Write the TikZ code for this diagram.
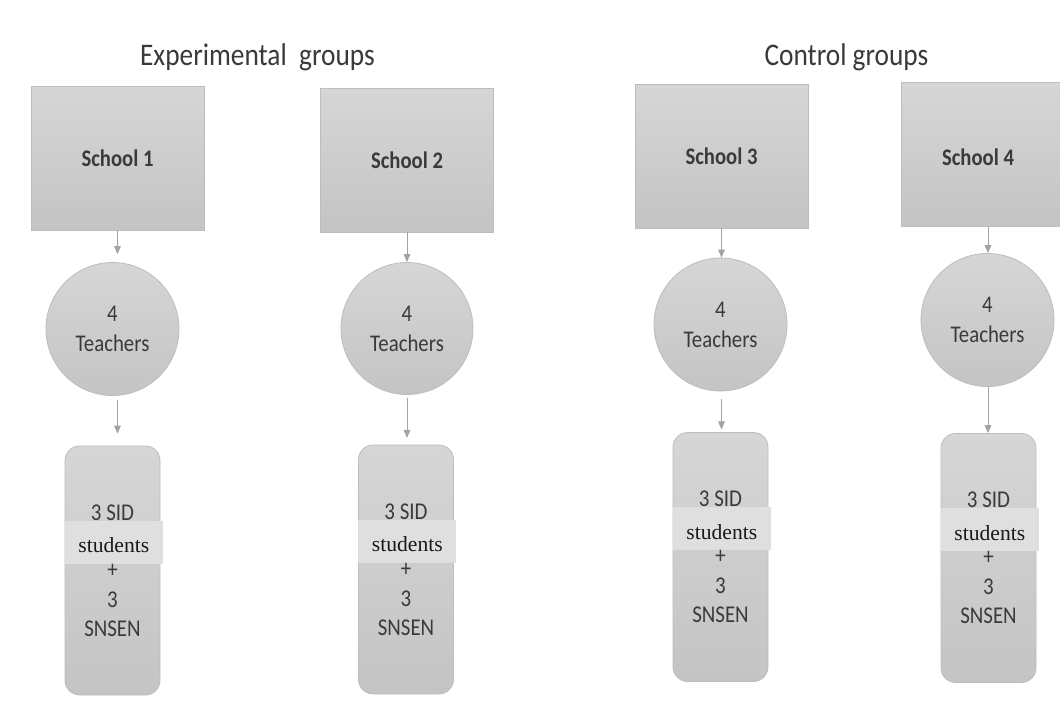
\documentclass[tikz,border=0pt]{standalone}
\usepackage{graphicx}
\usepackage{fontspec}
\setmainfont{Carlito}
\newfontfamily\serifband{Liberation Serif}
\usetikzlibrary{arrows.meta,calc}

\definecolor{boxtop}{HTML}{D6D6D6}
\definecolor{boxbot}{HTML}{C4C4C4}
\definecolor{boxline}{HTML}{BDBDBD}
\definecolor{inktext}{HTML}{3A3A3A}
\definecolor{arrowgray}{HTML}{A3A3A3}
\definecolor{bandfill}{HTML}{DFDFDF}

% the sans lettering is set a little taller than it is wide
\newcommand\tall[1]{\scalebox{1}[1.15]{#1}}

\tikzset{
  schoolbox/.style={draw=boxline, line width=0.6pt, top color=boxtop, bottom color=boxbot,
    minimum width=129.75pt, minimum height=108pt, inner sep=0pt,
    font=\fontsize{15.5}{18}\bfseries, text=inktext},
  teacherdisc/.style={circle, draw=boxline, line width=0.6pt, top color=boxtop, bottom color=boxbot,
    minimum size=99.75pt, inner sep=0pt, align=center,
    font=\fontsize{15.6}{22.5}\selectfont, text=inktext},
  pupilbox/.style={draw=boxline, line width=0.6pt, rounded corners=11pt,
    top color=boxtop, bottom color=boxbot,
    minimum width=71.25pt, minimum height=186.75pt, inner sep=0pt},
  band/.style={fill=bandfill, minimum width=73.5pt, minimum height=32.25pt, inner sep=0pt,
    font=\serifband\fontsize{16.2}{18}\selectfont, text=black!90},
  boxtext/.style={font=\fontsize{15.7}{18}\selectfont, text=inktext, inner sep=0pt},
  heading/.style={font=\fontsize{20.5}{24}\selectfont, text=inktext, inner sep=0pt, anchor=base},
  arr/.style={draw=arrowgray, line width=0.75pt, -{Triangle[length=6pt,width=5pt]}},
}

\begin{document}
\begin{tikzpicture}[x=0.75pt,y=-0.75pt]
\useasboundingbox (0,0) rectangle (1060,708);
\clip (0,0) rectangle (1060,708);
\fill[white] (0,0) rectangle (1060,708);

% group headings
\node[heading] (hexp) at (257.5,65) {\tall{Experimental\ \ groups}};
\node[heading] (hctl) at (846.5,65) {\tall{Control groups}};

% schools
\node[schoolbox] (s1) at (117.5,158) {\raisebox{-2.5pt}{\tall{School 1}}};
\node[schoolbox] (s2) at (407,160) {\raisebox{-2.5pt}{\tall{School 2}}};
\node[schoolbox] (s3) at (721.5,156) {\raisebox{-2pt}{\tall{School 3}}};
\node[schoolbox, minimum width=130.5pt] (s4) at (988,154.5) {};
\node[boxtext, font=\fontsize{15.5}{18}\bfseries] (s4text) at (978,157) {\tall{School 4}};

% teachers
\node[teacherdisc] (c1) at (112.5,329) {\raisebox{-1.5pt}{\tall{4}}\\\raisebox{-1.5pt}{\tall{Teachers}}};
\node[teacherdisc, minimum size=99pt] (c2) at (407,328.5) {\raisebox{-1.5pt}{\tall{4}}\\\raisebox{-1.5pt}{\tall{Teachers}}};
\node[teacherdisc] (c3) at (720.5,324.5) {\raisebox{-1.5pt}{\tall{4}}\\\raisebox{-1.5pt}{\tall{Teachers}}};
\node[teacherdisc] (c4) at (987.5,320) {\raisebox{-1.5pt}{\tall{4}}\\\raisebox{-1.5pt}{\tall{Teachers}}};

% pupils
\node[pupilbox] (b1) at (112.5,570.5) {};
\node[pupilbox] (b2) at (406,569.5) {};
\node[pupilbox] (b3) at (720.5,557) {};
\node[pupilbox] (b4) at (988.5,558) {};

\foreach \b in {b1,b2,b3,b4} {
  \node[band, anchor=north west] (\b band) at ($(\b.north west)+(0,75)$) {};
  \node[band, fill=none] (\b stud) at ($(\b band.center)+(0,3)$) {students};
  \node[boxtext] (\b sid) at ($(\b.north)+(0,67)$) {\tall{3 SID}};
  \node[boxtext] (\b plus) at ($(\b.north)+(0,125)$) {\tall{+}};
  \node[boxtext] (\b three) at ($(\b.north)+(0,154)$) {\tall{3}};
  \node[boxtext] (\b sn) at ($(\b.north)+(0,183)$) {\tall{SNSEN}};
}

% school -> teachers
\draw[arr, shorten >=6pt] (s1.south) -- (s1.south |- c1.north);
\draw[arr] (s2.south) -- (s2.south |- c2.north);
\draw[arr] (s3.south) -- (s3.south |- c3.north);
\draw[arr] (s4.south) -- (s4.south |- c4.north);

% teachers -> pupils
\draw[arr, shorten <=3pt, shorten >=9pt] (s1.south |- c1.south) -- (s1.south |- b1.north);
\draw[arr, shorten <=2pt, shorten >=5pt] (s2.south |- c2.south) -- (s2.south |- b2.north);
\draw[arr, shorten <=6pt, shorten >=2pt] (s3.south |- c3.south) -- (s3.south |- b3.north);
\draw[arr] (s4.south |- c4.south) -- (s4.south |- b4.north);
\end{tikzpicture}
\end{document}
